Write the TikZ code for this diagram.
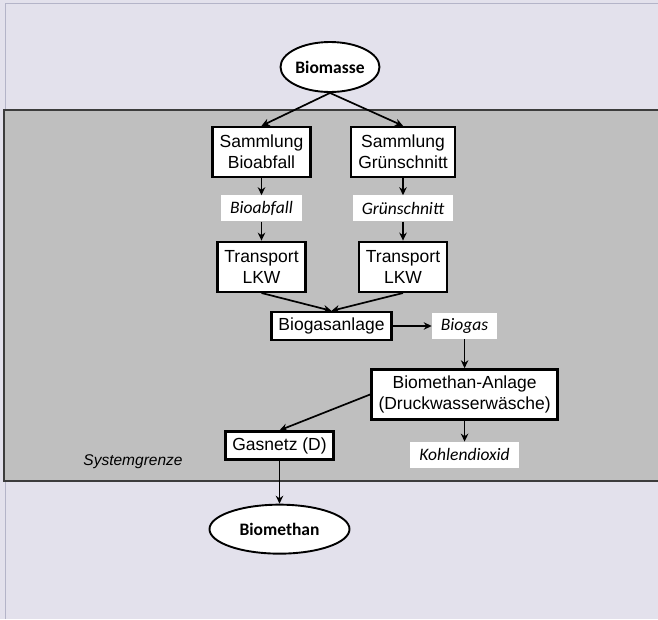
\documentclass[tikz,border=0pt]{standalone}
\usepackage{fontspec}
\setmainfont{Liberation Sans}
\newfontfamily\calibri{Carlito}
\usepackage{xcolor}
\usetikzlibrary{shapes.geometric, arrows.meta, positioning}

\definecolor{slidebg}{HTML}{E3E1EC}
\definecolor{slideedge}{HTML}{B4B4C8}
\definecolor{sysgray}{HTML}{BFBFBF}
\definecolor{sysborder}{HTML}{3C3C3C}

\begin{document}
\begin{tikzpicture}[
        x=1pt, y=-1pt,
        box/.style={rectangle, draw=black, fill=white, line width=2.4pt, inner xsep=7pt, inner ysep=4pt, minimum height=28pt, align=center, font=\fontsize{17.5}{21}\selectfont},
        tall/.style={box, minimum height=50pt},
        flow/.style={rectangle, fill=white, inner xsep=9pt, minimum height=26pt, font=\calibri\itshape\fontsize{17.5}{21}\selectfont},
        oval/.style={ellipse, draw=black, fill=white, line width=1.9pt, inner sep=0pt, font=\calibri\bfseries\fontsize{17.5}{20}\selectfont},
        arr/.style={-{Stealth[length=8pt, width=7.5pt]}, line width=1.7pt}
    ]
    \useasboundingbox (0,0) rectangle (658,619);
    \fill[slidebg] (0,0) rectangle (658,619);
    \draw[slideedge, line width=1pt] (5,619) -- (5,3) -- (658,3);

    % system boundary
    \fill[sysgray] (4,110) rectangle (660,481);
    \draw[sysborder, line width=2.4pt] (660,110) -- (4,110) -- (4,481) -- (660,481);
    \node[font=\itshape\fontsize{15.5}{18}\selectfont] (grenze) at (133,462) {Systemgrenze};

    \node[oval, minimum width=99pt, minimum height=50pt] (biomasse) at (330,67) {Biomasse};

    \node[tall] (samBio) at (261.5,152) {Sammlung\\Bioabfall};
    \node[tall] (samGruen) at (403,152) {Sammlung\\Grünschnitt};
    \node[flow, below=17pt of samBio] (bioabfall) {Bioabfall};
    \node[flow, below=17pt of samGruen] (gruenschnitt) {Grünschnitt};
    \node[tall, below=19pt of bioabfall] (trBio) {Transport\\LKW};
    \node[tall, below=19pt of gruenschnitt] (trGruen) {Transport\\LKW};

    \node[box] (anlage) at (331.5,326) {Biogasanlage};
    \node[flow, right=39pt of anlage] (biogas) {Biogas};
    \node[tall, below=29pt of biogas] (methAnlage) {Biomethan-Anlage\\(Druckwasserwäsche)};
    \node[flow, below=21pt of methAnlage] (co2) {Kohlendioxid};
    \node[box] (gasnetz) at (279.5,445.5) {Gasnetz (D)};
    \node[oval, minimum width=140pt, minimum height=49pt, below=43pt of gasnetz] (biomethan) {Biomethan};

    \draw[arr] (biomasse.south) -- (samBio.north);
    \draw[arr] (biomasse.south) -- (samGruen.north);
    \draw[arr] (samBio) -- (bioabfall);
    \draw[arr] (samGruen) -- (gruenschnitt);
    \draw[arr] (bioabfall) -- (trBio);
    \draw[arr] (gruenschnitt) -- (trGruen);
    \draw[arr] (trBio.south) -- (anlage.north);
    \draw[arr] (trGruen.south) -- (anlage.north);
    \draw[arr] (anlage) -- (biogas);
    \draw[arr] (biogas) -- (methAnlage);
    \draw[arr] (methAnlage.west) -- (gasnetz.north);
    \draw[arr] (methAnlage) -- (co2);
    \draw[arr] (gasnetz) -- (biomethan);
\end{tikzpicture}
\end{document}
